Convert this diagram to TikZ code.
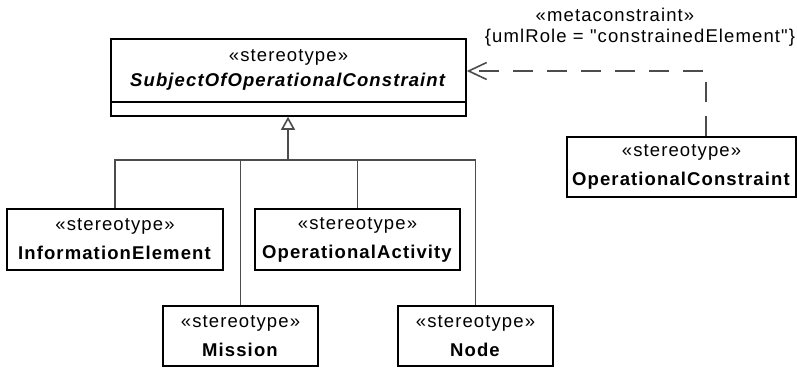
\documentclass[tikz,border=0pt]{standalone}
\usepackage{fontspec}
\setmainfont{Liberation Sans}[LetterSpace=6, Ligatures=TeXOff]
\usepackage{tikz}
\usetikzlibrary{positioning, calc, arrows.meta}

\tikzset{
  stereo/.style={draw, rectangle, line width=1.6pt, align=center, inner sep=0pt},
  genline/.style={draw=black!70, line width=1.6pt},
  depline/.style={draw=black!70, line width=1.6pt, dash pattern=on 20pt off 14pt},
}

\begin{document}
\begin{tikzpicture}[x=1pt, y=-1pt, font=\fontsize{18.5}{29}\selectfont]
  \useasboundingbox (0,0) rectangle (797,367);

  % --- Superclass (top) ---
  \node [stereo, minimum width=355pt, minimum height=77pt] (subj) at (288.5,77.5) {};
  \draw [line width=1.6pt] ([yshift=15pt]subj.south west) -- ([yshift=15pt]subj.south east);
  \node [align=center, font=\fontsize{18.5}{25}\selectfont] (subjtxt) at (288.5,70)
    {«stereotype»\\ \textbf{\textit{SubjectOfOperationalConstraint}}};

  % --- Subclasses ---
  \node [stereo, minimum width=216pt, minimum height=61pt] (infoelem) at (115,239.5)
    {«stereotype»\\ \textbf{InformationElement}};
  \node [stereo, minimum width=205pt, minimum height=61pt] (opactivity) at (357.5,239.5)
    {«stereotype»\\ \textbf{OperationalActivity}};
  \node [stereo, minimum width=155pt, minimum height=60pt] (mission) at (240.5,336)
    {«stereotype»\\ \textbf{Mission}};
  \node [stereo, minimum width=155pt, minimum height=60pt] (nodecls) at (475.5,336)
    {«stereotype»\\ \textbf{Node}};

  % --- Constraint (right) ---
  \node [stereo, minimum width=229pt, minimum height=60pt] (opconstraint) at (681.5,167)
    {«stereotype»\\ \textbf{OperationalConstraint}};

  % generalization tree
  \coordinate (bus) at (288,160);
  \draw [genline] (infoelem.north) -- (infoelem.north |- bus) -- (nodecls.north |- bus) -- (nodecls.north);
  \draw [genline] (mission.north) -- (mission.north |- bus);
  \draw [genline] (opactivity.north) -- (opactivity.north |- bus);
  \draw [genline, -{Triangle[open, length=13pt, width=14pt]}] (bus) -- (bus |- subj.south);

  % dependency with its labels
  \draw [depline, -{Straight Barb[length=18pt, width=17pt]}] ([xshift=24.5pt]opconstraint.north) |- ([yshift=6.5pt]subj.east);
  \node (metalbl) at (615,15) {«metaconstraint»};
  \node (rolelbl) at (640,38) {\{umlRole = "constrainedElement"\}};

\end{tikzpicture}
\end{document}
